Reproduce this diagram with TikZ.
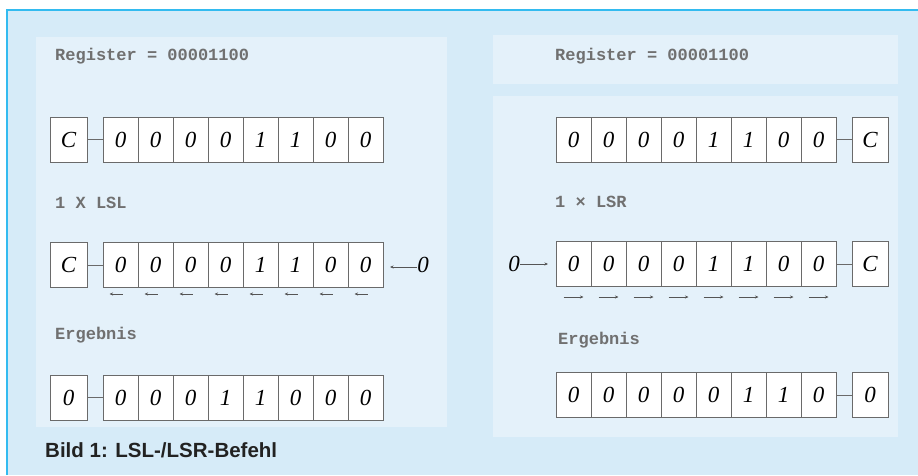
\documentclass[tikz,border=0pt]{standalone}
\usepackage{fontspec}
\setmainfont{Liberation Serif}
\newfontfamily\digitfont{Liberation Serif}
\newfontfamily\labelfont{Liberation Mono}
\newfontfamily\capfont{Liberation Sans}
\usetikzlibrary{arrows.meta}
\definecolor{outerbg}{HTML}{D6EBF8}
\definecolor{outerline}{HTML}{33BBF0}
\definecolor{panelbg}{HTML}{E4F1FA}
\definecolor{boxgray}{HTML}{6A6A6A}
\definecolor{labelgray}{HTML}{707070}
\definecolor{captext}{HTML}{222222}
\begin{document}
\begin{tikzpicture}[x=1pt,y=-1pt,
  bitbox/.style={draw=boxgray, line width=0.8pt, fill=white, minimum width=35pt, minimum height=45pt, inner sep=0pt, font=\digitfont\itshape\fontsize{23}{23}\selectfont},
  carrybox/.style={bitbox, minimum width=36pt},
  lbl/.style={anchor=base west, inner sep=0pt, text=labelgray, font=\labelfont\bfseries\fontsize{17}{17}\selectfont},
  link/.style={draw=boxgray, line width=0.8pt},
  shiftarrow/.style={draw=boxgray!80!black, line width=0.7pt, -{Stealth[length=3.5pt,width=3pt]}},
  panel/.style={fill=panelbg, draw=none},
  loose/.style={inner sep=0pt, font=\digitfont\itshape\fontsize{23}{23}\selectfont}
]
\useasboundingbox (0,0) rectangle (918,475);
\fill[white] (0,0) rectangle (918,475);
\fill[outerbg] (7,10) rectangle (918,475);
\draw[outerline, line width=1.5pt] (7,475) -- (7,10) -- (918,10);
% panels
\fill[panel] (36,37) rectangle (447,427);
\fill[panel] (493,35) rectangle (898,84);
\fill[panel] (493,96) rectangle (898,437);

% ---------- left side ----------
\node[lbl] (lreg) at (55,60) {Register = 00001100};
\node[carrybox, minimum width=37pt] (lc1) at (68.5,139.5) {C};
\foreach \v [count=\i] in {0,0,0,0,1,1,0,0}
  \node[bitbox] (la\i) at (120.5+35*\i-35,139.5) {\v};
\draw[link] (lc1.east) -- (la1.west);

\node[lbl] (llsl) at (55,208) {1 X LSL};
\node[carrybox, minimum width=37pt] (lc2) at (68.5,265) {C};
\foreach \v [count=\i] in {0,0,0,0,1,1,0,0}
  \node[bitbox] (lb\i) at (120.5+35*\i-35,265) {\v};
\draw[link] (lc2.east) -- (lb1.west);
\node[loose] (lzero) at (423,265) {0};
\coordinate (lin) at (390,267);
\draw[shiftarrow] (lzero.west |- lin) -- (lin);
\foreach \i in {1,...,8}
  \draw[shiftarrow] ([xshift=2pt,yshift=-29pt]lb\i.center) -- ([xshift=-11pt,yshift=-29pt]lb\i.center);

\node[lbl] (lerg) at (55,339) {Ergebnis};
\node[carrybox, minimum width=37pt] (lc3) at (68.5,397.5) {0};
\foreach \v [count=\i] in {0,0,0,1,1,0,0,0}
  \node[bitbox] (lr\i) at (120.5+35*\i-35,397.5) {\v};
\draw[link] (lc3.east) -- (lr1.west);

% ---------- right side ----------
\node[lbl] (rreg) at (555,60) {Register = 00001100};
\foreach \v [count=\i] in {0,0,0,0,1,1,0,0}
  \node[bitbox] (ra\i) at (573.5+35*\i-35,139.5) {\v};
\node[carrybox] (rc1) at (870,139.5) {C};
\draw[link] (ra8.east) -- (rc1.west);

\node[lbl] (rlsr) at (555,207) {1 × LSR};
\foreach \v [count=\i] in {0,0,0,0,1,1,0,0}
  \node[bitbox] (rb\i) at (573.5+35*\i-35,264) {\v};
\node[carrybox] (rc2) at (870,264) {C};
\draw[link] (rb8.east) -- (rc2.west);
\node[loose] (rzero) at (514,264) {0};
\coordinate (rin) at (548,264);
\draw[shiftarrow] (rzero.east |- rin) -- (rin);
\foreach \i in {1,...,8}
  \draw[shiftarrow] ([xshift=-10pt,yshift=-33pt]rb\i.center) -- ([xshift=10pt,yshift=-33pt]rb\i.center);

\node[lbl] (rerg) at (558,344) {Ergebnis};
\foreach \v [count=\i] in {0,0,0,0,0,1,1,0}
  \node[bitbox] (rr\i) at (573.5+35*\i-35,395) {\v};
\node[carrybox] (rc3) at (870,395) {0};
\draw[link] (rr8.east) -- (rc3.west);

% caption
\node[anchor=base west, inner sep=0pt, text=captext, font=\capfont\bfseries\fontsize{20.5}{20.5}\selectfont] (cap) at (45,457) {Bild 1: LSL-/LSR-Befehl};
\end{tikzpicture}
\end{document}
